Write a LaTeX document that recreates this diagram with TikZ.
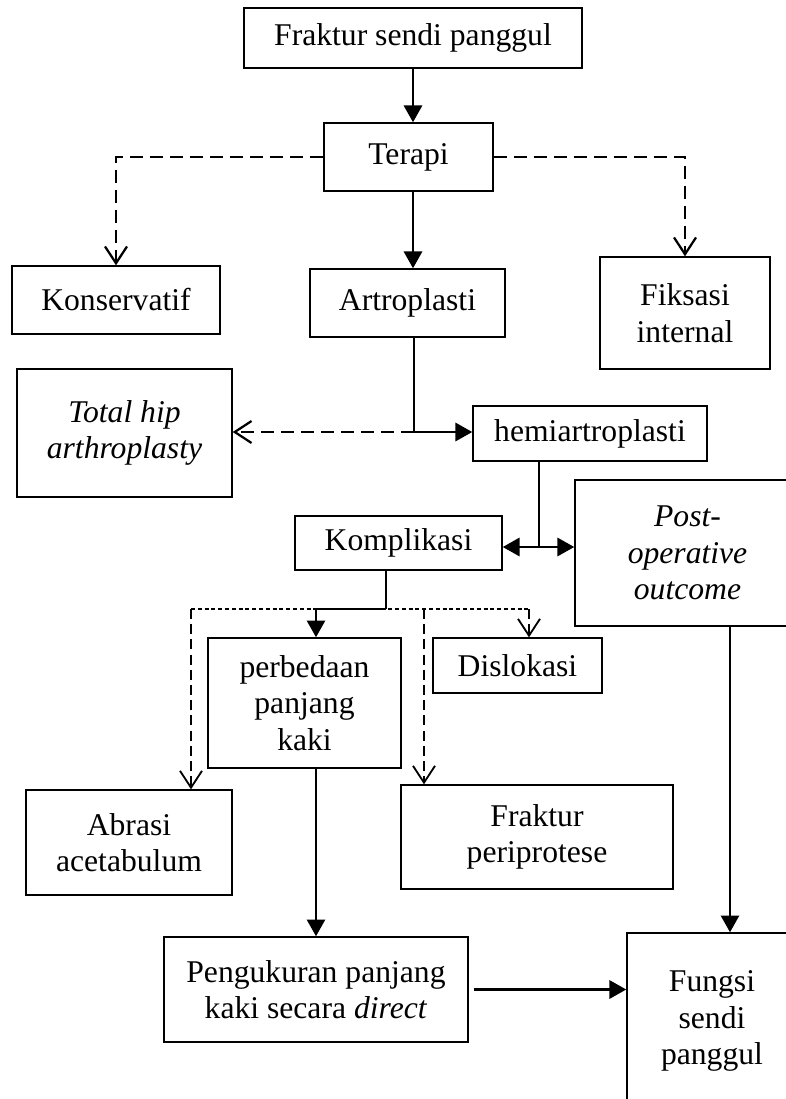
\documentclass[tikz,border=0pt]{standalone}
\usepackage{fontspec}
\setmainfont{Liberation Serif}
\usetikzlibrary{arrows.meta}
\tikzset{>={Triangle[length=.42cm,width=.45cm]}}
\tikzset{
	box/.style 2 args={draw, line width=1pt, inner sep=0pt, align=center,
		minimum width=#1*.025cm, minimum height=#2*.025cm,
		font=\fontsize{22.5}{26}\selectfont},
	mainline/.style={line width=2.1pt},
	thinline/.style={line width=.8pt},
	optline/.style={line width=1.6pt, dash pattern=on .33cm off .17cm,
		-{Straight Barb[length=.42cm,width=.55cm]}},
	minorline/.style={line width=.8pt, dash pattern=on .1cm off .07cm},
	minordrop/.style={line width=1.3pt, dash pattern=on .25cm off .13cm,
		-{Straight Barb[length=.42cm,width=.55cm]}}
}

\begin{document}
\begin{tikzpicture}[x=.025cm,y=-.025cm]

\useasboundingbox (0,0) rectangle (786,1099);
\clip (0,0) rectangle (786,1099);

% top
\node[box={338}{60}] (frak) at (413,38) {Fraktur sendi panggul};
\node[box={169}{68}] (terapi) at (408.5,157) {Terapi};

% therapies
\node[box={208}{68}] (kons) at (116,300) {Konservatif};
\node[box={195}{68}] (artro) at (407.5,303) {Artroplasti};
\node[box={170}{112}] (fiks) at (685,313) {Fiksasi\\internal};
\node[box={215}{128}] (thip) at (124.5,433) {\textit{Total hip}\\\textit{arthroplasty}};
\node[box={234}{55}] (hemi) at (590,433.5) {hemiartroplasti};

% after hemiartroplasti
\node[box={207}{54}] (komp) at (398.5,543) {Komplikasi};
\node[box={225}{146}] (post) at (687.5,553) {\textit{Post-}\\\textit{operative}\\\textit{outcome}};

% complications
\node[box={193}{130}] (perb) at (304.5,703) {perbedaan\\panjang\\kaki};
\node[box={169}{55}] (disl) at (517.5,665.5) {Dislokasi};
\node[box={206}{105}] (abr) at (129,842.5) {Abrasi\\acetabulum};
\node[box={272}{104}] (fper) at (537,837) {Fraktur\\periprotese};

% bottom
\node[box={304}{105}] (peng) at (316,989.5) {Pengukuran panjang\\kaki secara \textit{direct}};
\node[box={170}{176}] (fung) at (712,1021) {Fungsi\\sendi\\panggul};

% junctions
\coordinate (j1) at (414,432);
\coordinate (j2) at (539,547);
\coordinate (j3) at (386,609);
\coordinate (dl) at (191,609);
\coordinate (dm) at (424,609);
\coordinate (dr) at (529,609);
\coordinate (pb) at (730,626);

% top arrows
\draw[mainline,->] (frak.south) to (frak.south |- terapi.north);
\draw[mainline,->] (frak.south |- terapi.south) to (frak.south |- artro.north);
\draw[optline] (terapi.west) -| (kons.north);
\draw[optline] (terapi.east) -| (fiks.north);

% artroplasti split
\draw[mainline] (j1 |- artro.south) to (j1);
\draw[mainline,->] (j1) to (j1 -| hemi.west);
\draw[optline] (j1) to (j1 -| thip.east);

% hemiartroplasti split
\draw[mainline] (j2 |- hemi.south) to (j2);
\draw[mainline,->] (j2) to (j2 -| komp.east);
\draw[mainline,->] (j2) to (j2 -| post.west);

% komplikasi split
\draw[thinline] (j3 |- komp.south) to (j3);
\draw[minorline] (dl) to (dr);
\draw[mainline,->] (j3) -| (peng.north |- perb.north);
\draw[minordrop] (dl) to (dl |- abr.north);
\draw[minordrop] (dm) to (dm |- fper.north);
\draw[minordrop] (dr) to (dr |- disl.north);

% outcome
\draw[mainline,->] (peng.north |- perb.south) to (peng.north);
\draw[mainline,->] (pb) to (pb |- fung.north);
\draw[mainline,->,shorten <=.125cm] (peng.east) to (peng.east -| fung.west);

\end{tikzpicture}
\end{document}
